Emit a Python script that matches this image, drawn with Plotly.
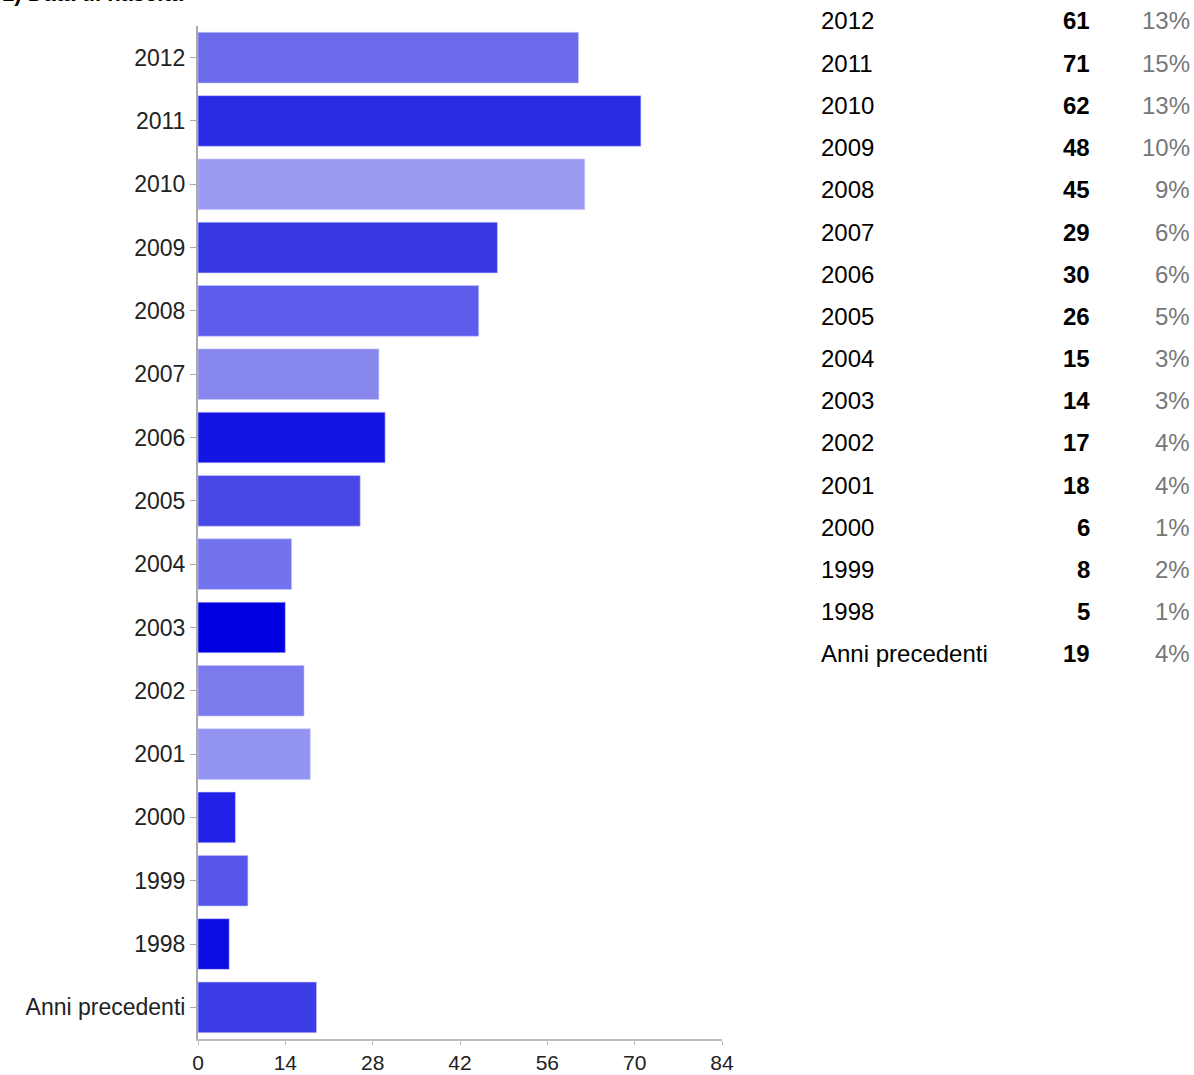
import plotly.graph_objects as go

categories = ["2012", "2011", "2010", "2009", "2008", "2007", "2006", "2005",
              "2004", "2003", "2002", "2001", "2000", "1999", "1998", "Anni precedenti"]
counts = [61, 71, 62, 48, 45, 29, 30, 26, 15, 14, 17, 18, 6, 8, 5, 19]
percent_labels = ["13%", "15%", "13%", "10%", "9%", "6%", "6%", "5%",
                  "3%", "3%", "4%", "4%", "1%", "2%", "1%", "4%"]
bar_colors = ["#6a6aea", "#2b2be6", "#9b9bf1", "#3636e3", "#5d5deb", "#8787ee",
              "#1414e3", "#4848e7", "#7373ed", "#0000e0", "#7b7bed", "#9393f2",
              "#2020e6", "#5555e9", "#0b0be2", "#3d3de8"]
x_ticks = [0, 14, 28, 42, 56, 70, 84]
title_text = "1) Data di nascita"

W, H = 1194, 1075
ML, MR, MT, MB = 198, 472, 26, 36
PW, PH = W - ML - MR, H - MT - MB

def px_x(px):
    return (px - ML) / PW

def px_y(py):
    return (H - MB - py) / PH

FONT = "Liberation Sans, Arial, sans-serif"

fig = go.Figure(go.Bar(
    x=counts, y=categories, orientation="h",
    marker=dict(color=bar_colors, line=dict(width=1, color="rgba(200,200,255,0.6)")),
    hoverinfo="x+y",
))

annotations = []
row0, pitch = 21, 42.2
for i, (cat, n, p) in enumerate(zip(categories, counts, percent_labels)):
    yy = px_y(row0 + i * pitch)
    annotations.append(dict(x=px_x(819), y=yy, xref="paper", yref="paper", text=cat,
                            showarrow=False, xanchor="left", yanchor="middle",
                            font=dict(family=FONT, size=24, color="#000")))
    annotations.append(dict(x=px_x(1092), y=yy, xref="paper", yref="paper", text=f"<b>{n}</b>",
                            showarrow=False, xanchor="right", yanchor="middle",
                            font=dict(family=FONT, size=24, color="#000")))
    annotations.append(dict(x=px_x(1192), y=yy, xref="paper", yref="paper", text=p,
                            showarrow=False, xanchor="right", yanchor="middle",
                            font=dict(family=FONT, size=24, color="#777")))

annotations.append(dict(x=px_x(0), y=px_y(-6), xref="paper", yref="paper",
                        text=f"<b>{title_text}</b>", showarrow=False,
                        xanchor="left", yanchor="middle",
                        font=dict(family=FONT, size=22, color="#000")))

fig.update_layout(
    width=W, height=H,
    margin=dict(l=ML, r=MR, t=MT, b=MB, pad=0),
    plot_bgcolor="white", paper_bgcolor="white",
    bargap=0.2, showlegend=False,
    font=dict(family=FONT, size=23, color="#222"),
    xaxis=dict(range=[0, 84], tickvals=x_ticks, showgrid=False, zeroline=False,
               automargin=False,
               showline=True, linecolor="#bbb", linewidth=2,
               ticks="outside", ticklen=4, tickcolor="#bbb", tickwidth=1,
               tickfont=dict(size=21, color="#222")),
    yaxis=dict(autorange="reversed", showgrid=False, zeroline=False,
               automargin=False,
               showline=True, linecolor="#aaa", linewidth=2,
               ticks="outside", ticklen=6, tickcolor="#aaa", tickwidth=1,
               tickfont=dict(size=23, color="#222")),
    annotations=annotations,
)

fig.write_html("out.html", config={"displayModeBar": False},
               post_script="document.body.style.margin='0px';document.body.style.overflow='hidden';")
